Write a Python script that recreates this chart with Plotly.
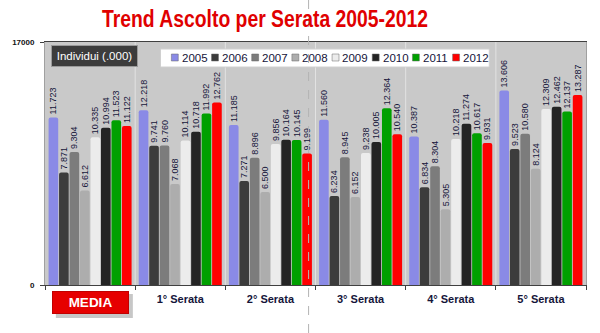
import plotly.graph_objects as go

# Audience (thousands of viewers) per evening, Sanremo 2005-2012
categories = ["MEDIA", "1° Serata", "2° Serata", "3° Serata", "4° Serata", "5° Serata"]
tick_labels = ["", "1° Serata", "2° Serata", "3° Serata", "4° Serata", "5° Serata"]
years = ["2005", "2006", "2007", "2008", "2009", "2010", "2011", "2012"]

v2005 = [11723, 12218, 11185, 11560, 10387, 13606]
v2006 = [7871, 9741, 7271, 6234, 6834, 9523]
v2007 = [9304, 9760, 8896, 8945, 8304, 10580]
v2008 = [6612, 7068, 6500, 6152, 5305, 8124]
v2009 = [10335, 10114, 9856, 9238, 10218, 12309]
v2010 = [10994, 10718, 10164, 10005, 11274, 12462]
v2011 = [11523, 11992, 10145, 12364, 10617, 12137]
v2012 = [11122, 12762, 9199, 10540, 9931, 13287]
series = [v2005, v2006, v2007, v2008, v2009, v2010, v2011, v2012]

colors = ["#8a8ae6", "#3c3c3c", "#7c7c7c", "#adadad",
          "#ececec", "#242424", "#00a000", "#ff0000"]

W, H = 600, 333
ML, MR, MT, MB = 38, 14, 42, 48
PW, PH = W - ML - MR, H - MT - MB


def px_x(x):
    return (x - ML) / PW


def px_y(y):
    return (H - MB - y) / PH


SANS = "Liberation Sans, Arial, sans-serif"
INK = "#15153a"

fig = go.Figure()
for name, vals, col in zip(years, series, colors):
    fig.add_trace(go.Bar(
        name=name, x=categories, y=vals,
        marker=dict(color=col, cornerradius=2, line=dict(width=0)),
        texttemplate="%{y:,}", textposition="outside", textangle=-90,
        constraintext="none", cliponaxis=False,
        textfont=dict(family=SANS, size=9, color=INK),
        showlegend=False,
    ))

shapes = []
annotations = []

# light separators between evening groups
for i in range(1, len(categories)):
    shapes.append(dict(type="line", xref="x", yref="paper",
                       x0=i - 0.5, x1=i - 0.5, y0=0, y1=1,
                       line=dict(color="#e2e2e2", width=1), layer="below"))

# legend box with year swatches
shapes.append(dict(type="rect", xref="paper", yref="paper",
                   x0=px_x(155), x1=px_x(488), y0=px_y(67), y1=px_y(49),
                   fillcolor="white", line=dict(color="#d0d0d0", width=1),
                   layer="above"))
for i, (name, col) in enumerate(zip(years, colors)):
    sx = 166 + i * 40.7
    shapes.append(dict(type="rect", xref="paper", yref="paper",
                       x0=px_x(sx), x1=px_x(sx + 7), y0=px_y(61), y1=px_y(54),
                       fillcolor=col, line=dict(color="#666666", width=0.5),
                       layer="above"))
    annotations.append(dict(text=name, xref="paper", yref="paper",
                            x=px_x(sx + 8.5), y=px_y(57.5), xanchor="left", yanchor="middle",
                            showarrow=False,
                            font=dict(family=SANS, size=11.5, color=INK)))

# unit label box
annotations.append(dict(text="Individui (.000)", xref="paper", yref="paper",
                        x=px_x(88.5), y=px_y(56), xanchor="center", yanchor="middle",
                        showarrow=False, width=85, height=20, borderpad=0,
                        bgcolor="#3c3c3c", bordercolor="#9a9a9a", borderwidth=1,
                        font=dict(family=SANS, size=11.5, color="white")))

# MEDIA button under the first group
shapes.append(dict(type="rect", xref="paper", yref="paper",
                   x0=px_x(49), x1=px_x(127), y0=px_y(318), y1=px_y(294),
                   fillcolor="rgba(0,0,0,0.22)", line=dict(width=0), layer="above"))
annotations.append(dict(text="<b>MEDIA</b>", xref="paper", yref="paper",
                        x=px_x(84.5), y=px_y(302.5), xanchor="center", yanchor="middle",
                        showarrow=False, width=75, height=21, borderpad=0,
                        bgcolor="#e60000", bordercolor="#c00000", borderwidth=1,
                        font=dict(family=SANS, size=13.5, color="white")))

# dashed vertical guide crossing the page
shapes.append(dict(type="line", xref="paper", yref="paper",
                   x0=px_x(305), x1=px_x(305), y0=px_y(0), y1=px_y(H),
                   line=dict(color="#b4b4b4", width=1, dash="dash"), layer="above"))

fig.update_layout(
    width=W, height=H,
    margin=dict(l=ML, r=MR, t=MT, b=MB),
    paper_bgcolor="white", plot_bgcolor="#c9c9c9",
    barmode="group", bargap=0.07, bargroupgap=0.08,
    separators=",.",
    title=dict(text="Trend Ascolto per Serata 2005-2012",
               x=265 / W, y=1 - 19 / H, xanchor="center", yanchor="middle",
               xref="container", yref="container",
               font=dict(family=SANS, size=24, weight="bold", color="#e00000")),
    xaxis=dict(tickmode="array", tickvals=categories, ticktext=tick_labels,
               tickson="boundaries", ticks="outside", ticklen=4, tickcolor="#404040",
               showline=True, linecolor="#404040", linewidth=1, mirror=True,
               showgrid=False, ticklabelstandoff=4,
               tickfont=dict(family=SANS, size=11, weight="bold", color=INK)),
    yaxis=dict(range=[0, 17000], tickmode="array", tickvals=[0, 17000],
               ticktext=["0", "17000"],
               ticks="outside", ticklen=4, tickcolor="#404040",
               showline=True, linecolor="#a0a0a0", linewidth=1, mirror=True,
               showgrid=False, zeroline=False, ticklabelstandoff=4,
               tickfont=dict(family=SANS, size=8, weight="bold", color="#111111")),
    shapes=shapes, annotations=annotations,
)

# narrow the heavy title to the condensed width of the headline face
condense_title = """
var gd = document.getElementById('{plot_id}');
var t = gd.querySelector('.gtitle');
if (t) { t.setAttribute('textLength', '326'); t.setAttribute('lengthAdjust', 'spacingAndGlyphs'); }
"""

fig.write_html("out.html", post_script=condense_title)
